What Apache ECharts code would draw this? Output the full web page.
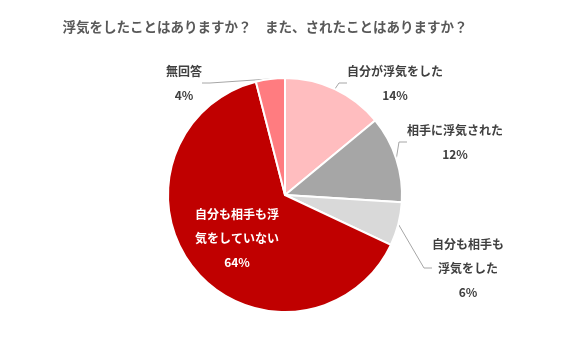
<!DOCTYPE html>
<html>
<head>
<meta charset="utf-8">
<style>
  html, body { margin: 0; padding: 0; background: #fff; }
  #chart { width: 569px; height: 346px; }
</style>
<script src="https://cdn.jsdelivr.net/npm/echarts@6/dist/echarts.min.js"></script>
</head>
<body>
<div id="chart"></div>
<script>
// Survey answers, clockwise from 12 o'clock
const categories = ['自分が浮気をした', '相手に浮気された', '自分も相手も浮気をした', '自分も相手も浮気をしていない', '無回答'];
const values = [14, 12, 6, 64, 4];
const labelTexts = [
  '自分が浮気をした\n14%',
  '相手に浮気された\n12%',
  '自分も相手も\n浮気をした\n6%',
  '自分も相手も浮\n気をしていない\n64%',
  '無回答\n4%'
];
const colors = ['#FFBDBF', '#A6A6A6', '#D9D9D9', '#C00000', '#FF7C80'];

// Label centre points
const labelSpots = [
  { x: 395, y: 83 },
  { x: 455, y: 142 },
  { x: 468, y: 268 },
  { x: 237, y: 238 },
  { x: 184, y: 83 }
];

const chart = echarts.init(document.getElementById('chart'));
const FONT = '"Noto Sans CJK JP", "Noto Sans", sans-serif';

chart.setOption({
  animation: false,
  title: {
    text: '浮気をしたことはありますか？　また、されたことはありますか？',
    left: 260,
    textAlign: 'center',
    top: 15,
    textStyle: { fontFamily: FONT, fontSize: 13.5, fontWeight: 'bold', color: '#595959' }
  },
  series: [{
    type: 'pie',
    center: [285, 195],
    radius: 117,
    startAngle: 90,
    clockwise: true,
    itemStyle: { borderColor: '#fff', borderWidth: 2 },
    label: {
      show: true,
      fontFamily: FONT,
      fontSize: 12,
      fontWeight: 'bold',
      color: '#404040',
      lineHeight: 24,
      align: 'center',
      formatter: p => labelTexts[p.dataIndex]
    },
    labelLine: {
      show: true,
      length: 8,
      length2: 8,
      lineStyle: { color: '#A6A6A6', width: 1 }
    },
    labelLayout: p => ({
      x: labelSpots[p.dataIndex].x,
      y: labelSpots[p.dataIndex].y,
      align: 'center',
      verticalAlign: 'middle'
    }),
    data: categories.map((name, i) => {
      const item = { name, value: values[i], itemStyle: { color: colors[i] } };
      if (i === 3) {
        item.label = { position: 'inside', color: '#fff' };
        item.labelLine = { show: false };
      }
      return item;
    })
  }]
});
</script>
</body>
</html>
